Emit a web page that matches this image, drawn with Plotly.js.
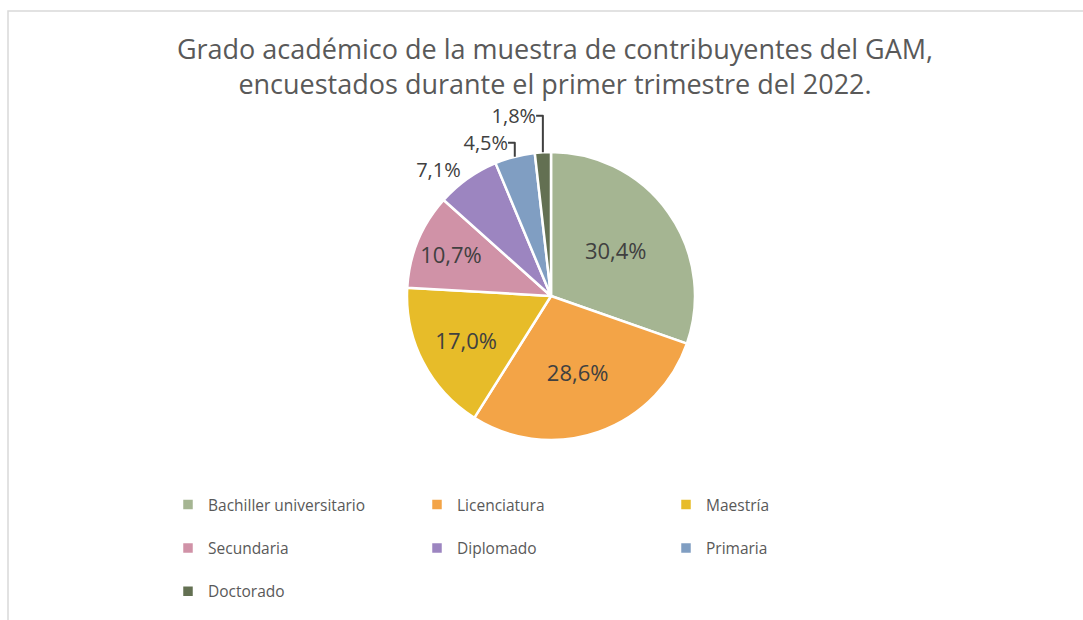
<!DOCTYPE html>
<html>
<head>
<meta charset="utf-8">
<script src="https://cdn.plot.ly/plotly-3.0.1.min.js"></script>
<style>
  html, body { margin: 0; padding: 0; background: #ffffff; }
  #chart { width: 1083px; height: 620px; }
</style>
</head>
<body>
<div id="chart"></div>
<script>
const categories = ["Bachiller universitario", "Licenciatura", "Maestría", "Secundaria", "Diplomado", "Primaria", "Doctorado"];
const percentages = [30.4, 28.6, 17.0, 10.7, 7.1, 4.5, 1.8];
const colors = ["#A5B592", "#F3A447", "#E7BC29", "#D092A7", "#9C85C0", "#809EC2", "#637052"];
const labelPositions = ["inside", "inside", "inside", "inside", "outside", "outside", "outside"];
const titleText = "Grado académico de la muestra de contribuyentes del GAM,<br>encuestados durante el primer trimestre del 2022.";

const W = 1083, H = 620;
const ML = 168, MR = 115;           // plot area margins (used so the legend wraps into 3 columns)
const PW = W - ML - MR;
const cx = 551, cy = 296, r = 144;  // pie centre and radius in pixels
const FONT = "'Open Sans', 'Noto Sans', sans-serif";

// legend entries get an empty second line so the rows are spaced like the original
const legendLabels = categories.map(c => c + "<br>&nbsp;");

const trace = {
  type: "pie",
  labels: legendLabels,
  values: percentages,
  sort: false,
  direction: "clockwise",
  rotation: 0,
  marker: { colors: colors, line: { color: "#ffffff", width: 2.5 } },
  texttemplate: "%{value:.1f}%",
  textposition: labelPositions,
  insidetextorientation: "horizontal",
  textfont: { family: FONT, size: 22, color: "#404040" },
  outsidetextfont: { family: FONT, size: 20, color: "#404040" },
  hoverinfo: "none",
  domain: {
    x: [(cx - r - ML) / PW, (cx + r - ML) / PW],
    y: [(H - cy - r) / H, (H - cy + r) / H]
  }
};

const layout = {
  width: W,
  height: H,
  margin: { l: ML, r: MR, t: 0, b: 0, autoexpand: false },
  paper_bgcolor: "#ffffff",
  plot_bgcolor: "rgba(0,0,0,0)",
  separators: ",.",
  font: { family: FONT, color: "#595959" },
  title: {
    text: titleText,
    font: { family: FONT, size: 27, color: "#595959" },
    x: 555 / W,
    xanchor: "center",
    xref: "container",
    y: 1 - 59 / H,
    yanchor: "top",
    yref: "container"
  },
  showlegend: true,
  legend: {
    orientation: "h",
    x: 0,
    xanchor: "left",
    y: (H - 488) / H,
    yanchor: "top",
    valign: "top",
    entrywidth: 204,
    entrywidthmode: "pixels",
    bgcolor: "rgba(0,0,0,0)",
    font: { family: FONT, size: 15.5, color: "#595959" },
    traceorder: "normal"
  },
  shapes: [{
    type: "rect",
    xref: "paper", yref: "paper",
    x0: (8 - ML) / PW, x1: (W + 10 - ML) / PW,
    y0: -0.05, y1: (H - 11) / H,
    line: { color: "#D9D9D9", width: 1.5 },
    fillcolor: "rgba(0,0,0,0)",
    layer: "below"
  }]
};

Plotly.newPlot("chart", [trace], layout, { displayModeBar: false, staticPlot: true });
</script>
</body>
</html>
